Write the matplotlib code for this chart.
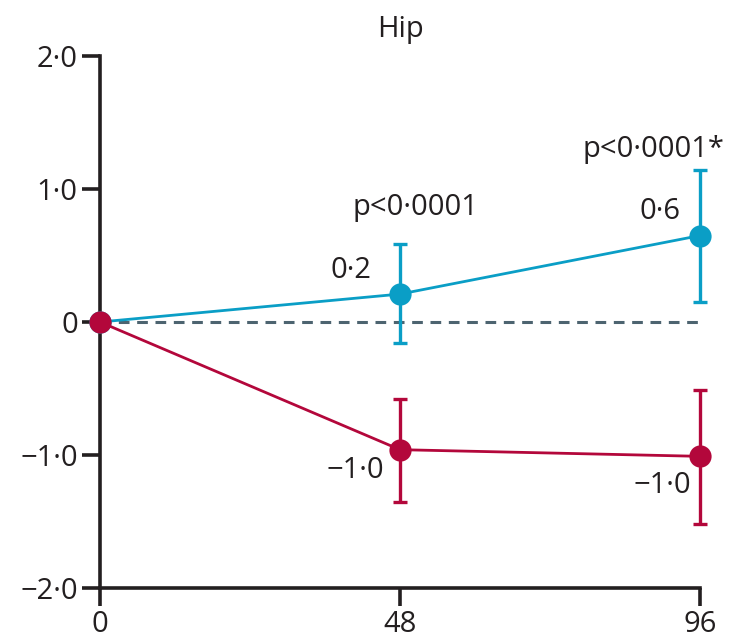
import matplotlib
matplotlib.use("Agg")
import matplotlib.pyplot as plt

weeks = [0, 48, 96]
blue_vals = [0.0, 0.21, 0.65]
blue_lo = [0.0, -0.16, 0.15]
blue_hi = [0.0, 0.59, 1.14]
red_vals = [0.0, -0.96, -1.01]
red_lo = [0.0, -1.35, -1.52]
red_hi = [0.0, -0.58, -0.51]
blue_labels = ["", "0·2", "0·6"]
red_labels = ["", "−1·0", "−1·0"]
p_labels = ["", "p<0·0001", "p<0·0001*"]
yticks = [-2, -1, 0, 1, 2]
ytick_labels = ["−2·0", "−1·0", "0", "1·0", "2·0"]
xtick_labels = ["0", "48", "96"]

BLUE = "#0a9ec6"
RED = "#b3073b"
DASH = "#4d6470"
TXT = "#231f20"

plt.rcParams['font.family'] = ['Open Sans', 'DejaVu Sans']

fig = plt.figure(figsize=(7.4, 6.39), dpi=100)
ax = fig.add_axes([100/740, 51/639, 600/740, 532/639])

ax.plot([0, 96], [0, 0], linestyle=(0, (3.5, 2.5)), color=DASH, lw=2.2, zorder=1)

def draw(vals, lo, hi, color, z):
    yerr = [[v - l for v, l in zip(vals, lo)], [h - v for v, h in zip(vals, hi)]]
    ax.errorbar(weeks[1:], vals[1:], yerr=[yerr[0][1:], yerr[1][1:]], fmt='none',
                ecolor=color, elinewidth=2.4, capsize=5, capthick=2.4, zorder=z)
    ax.plot(weeks, vals, color=color, lw=2.0, marker='o', markersize=16,
            markeredgewidth=0, zorder=z + 1)

draw(blue_vals, blue_lo, blue_hi, BLUE, 3)
draw(red_vals, red_lo, red_hi, RED, 5)

fs = 21
ax.text(weeks[1] - 4.5, 0.39, blue_labels[1], ha='right', va='center', fontsize=fs, color=TXT)
ax.text(weeks[2] - 3.2, 0.83, blue_labels[2], ha='right', va='center', fontsize=fs, color=TXT)
ax.text(weeks[1] + 2.5, 0.86, p_labels[1], ha='center', va='center', fontsize=fs, color=TXT)
ax.text(weeks[2] - 7.5, 1.30, p_labels[2], ha='center', va='center', fontsize=fs, color=TXT)
ax.text(weeks[1] - 2.5, -1.12, red_labels[1], ha='right', va='center', fontsize=fs, color=TXT)
ax.text(weeks[2] - 1.5, -1.23, red_labels[2], ha='right', va='center', fontsize=fs, color=TXT)

ax.set_xlim(0, 96)
ax.set_ylim(-2, 2)
ax.set_xticks(weeks)
ax.set_xticklabels(xtick_labels)
ax.set_yticks(yticks)
ax.set_yticklabels(ytick_labels)
ax.tick_params(axis='both', length=13, width=2.6, labelsize=fs, colors=TXT, pad=3)
for s in ['top', 'right']:
    ax.spines[s].set_visible(False)
for s in ['left', 'bottom']:
    ax.spines[s].set_linewidth(2.6)
    ax.spines[s].set_color(TXT)
ax.set_title("Hip", fontsize=fs, color=TXT, pad=14)
for l in ax.get_lines():
    l.set_clip_on(False)
for c in ax.collections:
    c.set_clip_on(False)

fig.savefig("out.png", dpi=100)
